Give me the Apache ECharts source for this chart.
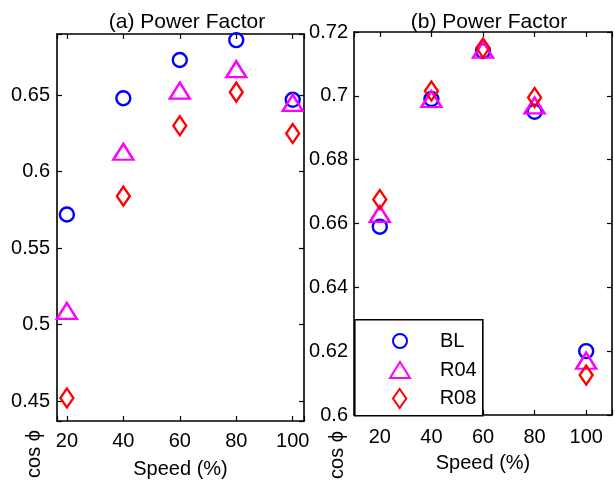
<!DOCTYPE html>
<html lang="en">
<head>
    <meta charset="UTF-8">
    <title>Power Factor</title>
    <script src="https://cdn.jsdelivr.net/npm/echarts@6/dist/echarts.min.js"></script>
</head>
<body style="margin:0;background:#fff">
    <div id="main" style="width:615px;height:484px;"></div>
<script>
    // speeds (%)
    var speeds = [20, 40, 60, 80, 100];

    // (a) Power Factor
    var blA  = [0.572, 0.648, 0.673, 0.686, 0.647];
    var r04A = [0.509, 0.613, 0.653, 0.667, 0.645];
    var r08A = [0.452, 0.584, 0.630, 0.652, 0.625];

    // (b) Power Factor
    var blB  = [0.659, 0.699, 0.714, 0.695, 0.620];
    var r04B = [0.663, 0.699, 0.7145, 0.697, 0.617];
    var r08B = [0.6675, 0.7015, 0.715, 0.6995, 0.6125];

    // tick labels
    var xTicks = [20, 40, 60, 80, 100];
    var yTicksA = [0.45, 0.5, 0.55, 0.6, 0.65];
    var yTicksB = [0.6, 0.62, 0.64, 0.66, 0.68, 0.7, 0.72];

    var FONT = 'Liberation Sans';
    var triPath = 'path://M10,0L20,16L0,16Z';
    var diaPath = 'path://M7,0L14,10L7,20L0,10Z';

    function onlyTicks(list) {
        return function (v) {
            for (var i = 0; i < list.length; i++) {
                if (Math.abs(v - list[i]) < 1e-6) return String(list[i]);
            }
            return '';
        };
    }

    function pairs(xs, ys) {
        var out = [];
        for (var i = 0; i < xs.length; i++) out.push([xs[i], ys[i]]);
        return out;
    }

    // main axes + mirror axes (box with inside ticks like matlab)
    function xAx(grid, min, max, pos, show, margin) {
        return {
            type: 'value', gridIndex: grid, min: min, max: max, position: pos,
            axisLine: {show: true, onZero: false, lineStyle: {color: '#000', width: 1.6}},
            axisTick: {show: true, inside: true, length: 5, lineStyle: {color: '#000', width: 1.2}},
            axisLabel: {show: show, margin: margin, color: '#000', fontFamily: FONT, fontSize: 20,
                formatter: onlyTicks(xTicks), showMinLabel: true, showMaxLabel: true},
            splitLine: {show: false},
            name: show ? 'Speed (%)' : '',
            nameLocation: 'middle', nameGap: 38,
            nameTextStyle: {color: '#000', fontFamily: FONT, fontSize: 20}
        };
    }
    function yAx(grid, min, max, pos, show, ticks, margin) {
        return {
            type: 'value', gridIndex: grid, min: min, max: max, position: pos,
            axisLine: {show: true, onZero: false, lineStyle: {color: '#000', width: 1.6}},
            axisTick: {show: true, inside: true, length: 5, lineStyle: {color: '#000', width: 1.2}},
            axisLabel: {show: show, margin: margin, color: '#000', fontFamily: FONT, fontSize: 20,
                formatter: onlyTicks(ticks), showMinLabel: true, showMaxLabel: true},
            splitLine: {show: false}
        };
    }

    function sc(name, data, xi, yi, symbol, size, color) {
        return {
            name: name, type: 'scatter', xAxisIndex: xi, yAxisIndex: yi,
            data: data, symbol: symbol, symbolSize: size,
            itemStyle: {color: 'rgba(0,0,0,0)', borderColor: color, borderWidth: 2.4, opacity: 1},
            emphasis: {disabled: true},
            animation: false
        };
    }

    var myChart = echarts.init(document.getElementById('main'));

    var option = {
        backgroundColor: '#fff',
        animation: false,
        title: [
            {text: '(a) Power Factor', left: 182, top: 7, textAlign: 'center',
                textStyle: {color: '#000', fontFamily: FONT, fontSize: 21, fontWeight: 'normal'}},
            {text: '(b) Power Factor', left: 484, top: 7, textAlign: 'center',
                textStyle: {color: '#000', fontFamily: FONT, fontSize: 21, fontWeight: 'normal'}}
        ],
        grid: [
            {left: 57, top: 34, width: 247, height: 389, containLabel: false},
            {left: 354, top: 32, width: 262, height: 383, containLabel: false}
        ],
        xAxis: [
            xAx(0, 16.5, 104, 'bottom', true, 10),
            xAx(0, 16.5, 104, 'top', false, 10),
            xAx(1, 10, 110, 'bottom', true, 12),
            xAx(1, 10, 110, 'top', false, 12)
        ],
        yAxis: [
            yAx(0, 0.437, 0.690, 'left', true, yTicksA, 7),
            yAx(0, 0.437, 0.690, 'right', false, yTicksA, 7),
            yAx(1, 0.6, 0.72, 'left', true, yTicksB, 6),
            yAx(1, 0.6, 0.72, 'right', false, yTicksB, 6)
        ],
        legend: [
            {data: ['BL'], left: 392, top: 331, itemWidth: 70, itemHeight: 14, padding: 0, z: 10,
                textStyle: {color: '#000', fontFamily: FONT, fontSize: 20}},
            {data: ['R04'], left: 389, top: 360, itemWidth: 70, itemHeight: 16, padding: 0, z: 10,
                textStyle: {color: '#000', fontFamily: FONT, fontSize: 20}},
            {data: ['R08'], left: 392, top: 388, itemWidth: 70, itemHeight: 19, padding: 0, z: 10,
                textStyle: {color: '#000', fontFamily: FONT, fontSize: 20}}
        ],
        graphic: [
            {type: 'rect', left: 354, top: 319, z: 8,
                shape: {width: 128, height: 96},
                style: {fill: '#fff', stroke: '#000', lineWidth: 1.6}},
            {type: 'text', x: 34, y: 454, rotation: Math.PI / 2, z: 10,
                style: {text: 'cos ϕ', fill: '#000', font: '20px "Liberation Sans"',
                    textAlign: 'center', textVerticalAlign: 'middle'}},
            {type: 'text', x: 337, y: 455, rotation: Math.PI / 2, z: 10,
                style: {text: 'cos ϕ', fill: '#000', font: '20px "Liberation Sans"',
                    textAlign: 'center', textVerticalAlign: 'middle'}}
        ],
        series: [
            sc('BL', pairs(speeds, blA), 0, 0, 'circle', 14, '#0000ff'),
            sc('R04', pairs(speeds, r04A), 0, 0, triPath, [20, 16], '#ff00ff'),
            sc('R08', pairs(speeds, r08A), 0, 0, diaPath, [13, 19], '#ff0000'),
            sc('BL', pairs(speeds, blB), 2, 2, 'circle', 14, '#0000ff'),
            sc('R04', pairs(speeds, r04B), 2, 2, triPath, [20, 16], '#ff00ff'),
            sc('R08', pairs(speeds, r08B), 2, 2, diaPath, [13, 19], '#ff0000')
        ]
    };

    myChart.setOption(option);
</script>
</body>
</html>
